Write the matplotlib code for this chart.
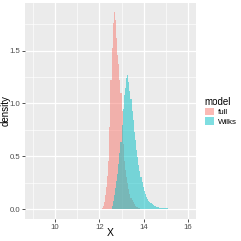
import matplotlib
matplotlib.use('Agg')
import matplotlib.pyplot as plt
from matplotlib.patches import Patch

plt.rcParams['font.family'] = ['Liberation Sans', 'DejaVu Sans']

# histogram densities, bin width 0.05
bin_width = 0.05
full_start = 12.10
full = [0.01, 0.03, 0.07, 0.13, 0.21, 0.31, 0.46, 0.78, 1.22, 1.52,
        1.76, 1.86, 1.79, 1.62, 1.46, 1.37, 1.22, 1.10, 0.93, 0.62,
        0.46, 0.37, 0.30, 0.25, 0.19, 0.14, 0.11, 0.09, 0.065, 0.05,
        0.035, 0.025, 0.018, 0.013, 0.009, 0.006, 0.004, 0.003, 0.002, 0.001]
wilks_start = 12.50
wilks = [0.005, 0.03, 0.08, 0.13, 0.20, 0.27, 0.33, 0.43, 0.53, 0.64,
         0.80, 0.95, 1.08, 1.15, 1.24, 1.27, 1.20, 1.12, 1.04, 0.93,
         0.84, 0.73, 0.65, 0.56, 0.49, 0.42, 0.36, 0.30, 0.26, 0.21,
         0.17, 0.14, 0.115, 0.095, 0.08, 0.065, 0.055, 0.045, 0.038, 0.032,
         0.027, 0.023, 0.02, 0.017, 0.015, 0.013, 0.012, 0.011, 0.01, 0.009,
         0.008, 0.007, 0.006, 0.006, 0.005, 0.005, 0.004, 0.004, 0.003, 0.003, 0.002]
models = ['full', 'Wilks']
colors = ['#F8766D', '#00BFC4']
x_ticks = [10, 12, 14, 16]
y_ticks = [0.0, 0.5, 1.0, 1.5]

fig = plt.figure(figsize=(2.41, 2.41), dpi=100)
ax = fig.add_axes([0.104, 0.091, 0.709, 0.897])
ax.set_facecolor('#EBEBEB')

for start, vals, col in [(full_start, full, colors[0]), (wilks_start, wilks, colors[1])]:
    lefts = [start + i * bin_width for i in range(len(vals))]
    ax.bar(lefts, vals, width=bin_width, align='edge', color=col, alpha=0.5,
           linewidth=0, zorder=3)

ax.set_xlim(8.65, 16.35)
ax.set_ylim(-0.093, 1.95)
ax.set_xticks(x_ticks)
ax.set_xticklabels([str(t) for t in x_ticks])
ax.set_yticks(y_ticks)
ax.set_yticklabels(['%.1f' % t for t in y_ticks])
ax.set_xticks([9, 11, 13, 15], minor=True)
ax.set_yticks([0.25, 0.75, 1.25, 1.75], minor=True)
ax.grid(which='major', color='white', linewidth=0.9, zorder=0)
ax.grid(which='minor', color='white', linewidth=0.45, zorder=0)
ax.set_axisbelow(True)
for s in ax.spines.values():
    s.set_visible(False)
ax.tick_params(which='major', length=2, width=0.6, color='#333333',
               labelsize=5.6, labelcolor='#4D4D4D', pad=1.5)
ax.tick_params(which='minor', length=0)

# axis titles placed in figure pixels
fig.text(110 / 241, 1 - 233 / 241, 'X', fontsize=7.5, ha='center', va='center')
fig.text(5.5 / 241, 1 - 111 / 241, 'density', fontsize=7, rotation=90,
         ha='center', va='center')

handles = [Patch(facecolor=c, alpha=0.5, edgecolor='none') for c in colors]
leg = fig.legend(handles, models, title='model', loc='upper left',
                 bbox_to_anchor=(0.833, 0.615), frameon=False, fontsize=5.8,
                 title_fontsize=7, handlelength=1.1, handleheight=1.1,
                 handletextpad=0.5, labelspacing=0.1, borderpad=0)
leg._legend_box.align = 'left'

fig.savefig('out.png', dpi=100)
